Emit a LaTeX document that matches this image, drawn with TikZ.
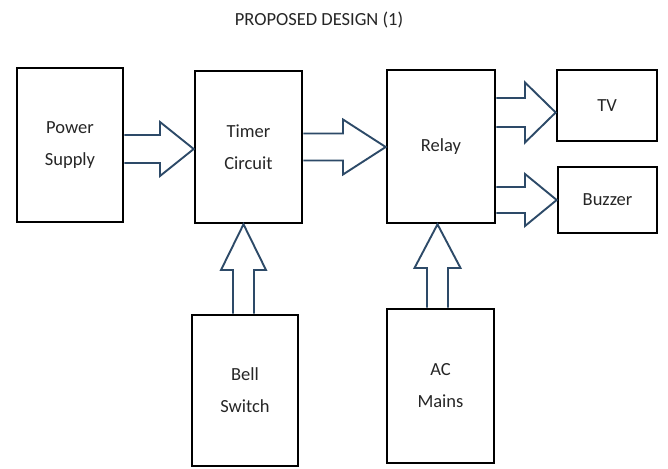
\documentclass[tikz,border=0pt]{standalone}
\usepackage{fontspec}
\setmainfont{Carlito}
\usetikzlibrary{calc}
\definecolor{arrowblue}{HTML}{2D4A68}
\definecolor{textgrey}{HTML}{262626}
\tikzset{
  box/.style={draw=black, line width=2.6pt, fill=white, align=center, inner sep=0pt,
    font=\fontsize{18.5}{32}\selectfont, text=textgrey},
  blockarr/.style={draw=arrowblue, line width=1.9pt, fill=white, line join=miter},
  titletext/.style={font=\fontsize{18.5}{20}\selectfont, text=textgrey}
}
% horizontal block arrow: from node, to node, centre y (px from top), shaft half, head half, shaft end x
\newcommand{\hblockarrow}[6]{%
  \draw[blockarr] let \p1=(#1.east), \p2=(#2.west) in
    (\x1,{-(#3-#4)*1pt}) -- ({#6*1pt},{-(#3-#4)*1pt}) -- ({#6*1pt},{-(#3-#5)*1pt})
    -- (\x2,{-#3*1pt}) -- ({#6*1pt},{-(#3+#5)*1pt}) -- ({#6*1pt},{-(#3+#4)*1pt})
    -- (\x1,{-(#3+#4)*1pt});}
% vertical block arrow (upwards): from node, to node, centre x, shaft half, head half, shaft end y (px from top)
\newcommand{\vblockarrow}[6]{%
  \draw[blockarr] let \p1=(#1.north), \p2=(#2.south) in
    ({(#3-#4)*1pt},\y1) -- ({(#3-#4)*1pt},{-#6*1pt}) -- ({(#3-#5)*1pt},{-#6*1pt})
    -- ({#3*1pt},\y2) -- ({(#3+#5)*1pt},{-#6*1pt}) -- ({(#3+#4)*1pt},{-#6*1pt})
    -- ({(#3+#4)*1pt},\y1);}
\begin{document}
\begin{tikzpicture}
\useasboundingbox[fill=white] (0pt,0pt) rectangle (668pt,-468pt);
\node[titletext] (title) at (319pt,-20pt) {PROPOSED DESIGN (1)};
\node[box, minimum width=106pt, minimum height=154pt] (ps) at (70pt,-145pt) {Power\\Supply};
\node[box, minimum width=107pt, minimum height=152pt] (timer) at (248.5pt,-147pt) {Timer\\Circuit};
\node[box, minimum width=108pt, minimum height=153pt] (relay) at (441pt,-146.5pt) {Relay};
\node[box, minimum width=100pt, minimum height=71pt] (tv) at (607pt,-105.5pt) {TV};
\node[box, minimum width=99pt, minimum height=66pt] (buzzer) at (607.5pt,-200pt) {Buzzer};
\node[box, minimum width=106pt, minimum height=151pt] (bell) at (245pt,-390.5pt) {Bell\\Switch};
\node[box, minimum width=107pt, minimum height=154pt] (ac) at (440.5pt,-386pt) {AC\\Mains};
\hblockarrow{ps}{timer}{149}{14}{27}{160}
\hblockarrow{timer}{relay}{147}{13.5}{27.5}{343}
\hblockarrow{relay}{tv}{112.5}{14.5}{30}{525}
\hblockarrow{relay}{buzzer}{200}{13}{26}{525}
\vblockarrow{bell}{timer}{243.5}{10.5}{22.5}{270}
\vblockarrow{ac}{relay}{437.5}{10.5}{23}{268}
\end{tikzpicture}
\end{document}
